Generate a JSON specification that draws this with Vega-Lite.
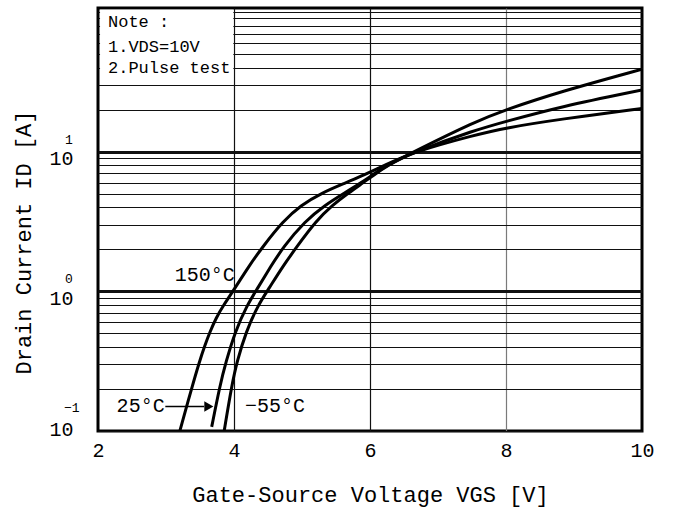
{
  "$schema": "https://vega.github.io/schema/vega-lite/v6.json",
  "width": 544,
  "height": 423,
  "autosize": {"type": "none"},
  "padding": {"left": 98, "top": 8, "right": 33, "bottom": 83},
  "background": "white",
  "config": {
    "font": "Liberation Mono",
    "view": {"stroke": "black", "strokeWidth": 3},
    "axis": {"domain": false, "ticks": false, "labelColor": "black", "titleColor": "black", "titleFontWeight": "normal"}
  },
  "datasets": {
    "curves": [
      {"temp": "150", "vgs": 3.206, "id": 0.101},
      {"temp": "150", "vgs": 3.39, "id": 0.213},
      {"temp": "150", "vgs": 3.491, "id": 0.313},
      {"temp": "150", "vgs": 3.572, "id": 0.411},
      {"temp": "150", "vgs": 3.647, "id": 0.513},
      {"temp": "150", "vgs": 3.735, "id": 0.643},
      {"temp": "150", "vgs": 3.846, "id": 0.796},
      {"temp": "150", "vgs": 4.012, "id": 1.05},
      {"temp": "150", "vgs": 4.213, "id": 1.5},
      {"temp": "150", "vgs": 4.419, "id": 2.08},
      {"temp": "150", "vgs": 4.721, "id": 3.18},
      {"temp": "150", "vgs": 4.985, "id": 4.15},
      {"temp": "150", "vgs": 5.294, "id": 5.08},
      {"temp": "150", "vgs": 5.618, "id": 5.93},
      {"temp": "150", "vgs": 5.853, "id": 6.62},
      {"temp": "150", "vgs": 6.221, "id": 8.03},
      {"temp": "150", "vgs": 6.632, "id": 9.95},
      {"temp": "150", "vgs": 7.544, "id": 13.2},
      {"temp": "150", "vgs": 7.985, "id": 14.8},
      {"temp": "150", "vgs": 8.794, "id": 17.1},
      {"temp": "150", "vgs": 10.0, "id": 20.4},
      {"temp": "25", "vgs": 3.672, "id": 0.107},
      {"temp": "25", "vgs": 3.794, "id": 0.213},
      {"temp": "25", "vgs": 3.882, "id": 0.313},
      {"temp": "25", "vgs": 4.015, "id": 0.513},
      {"temp": "25", "vgs": 4.191, "id": 0.796},
      {"temp": "25", "vgs": 4.346, "id": 1.05},
      {"temp": "25", "vgs": 4.537, "id": 1.5},
      {"temp": "25", "vgs": 4.725, "id": 2.08},
      {"temp": "25", "vgs": 5.044, "id": 3.18},
      {"temp": "25", "vgs": 5.338, "id": 4.15},
      {"temp": "25", "vgs": 5.632, "id": 5.08},
      {"temp": "25", "vgs": 5.853, "id": 5.93},
      {"temp": "25", "vgs": 6.0, "id": 6.62},
      {"temp": "25", "vgs": 6.246, "id": 8.0},
      {"temp": "25", "vgs": 6.662, "id": 10.0},
      {"temp": "25", "vgs": 7.544, "id": 14.3},
      {"temp": "25", "vgs": 7.985, "id": 16.4},
      {"temp": "25", "vgs": 8.794, "id": 21.0},
      {"temp": "25", "vgs": 10.0, "id": 27.7},
      {"temp": "-55", "vgs": 3.857, "id": 0.101},
      {"temp": "-55", "vgs": 3.968, "id": 0.213},
      {"temp": "-55", "vgs": 4.043, "id": 0.313},
      {"temp": "-55", "vgs": 4.176, "id": 0.513},
      {"temp": "-55", "vgs": 4.353, "id": 0.796},
      {"temp": "-55", "vgs": 4.515, "id": 1.05},
      {"temp": "-55", "vgs": 4.713, "id": 1.5},
      {"temp": "-55", "vgs": 4.922, "id": 2.08},
      {"temp": "-55", "vgs": 5.203, "id": 3.18},
      {"temp": "-55", "vgs": 5.449, "id": 4.15},
      {"temp": "-55", "vgs": 5.687, "id": 5.08},
      {"temp": "-55", "vgs": 5.884, "id": 5.93},
      {"temp": "-55", "vgs": 6.022, "id": 6.62},
      {"temp": "-55", "vgs": 6.251, "id": 7.95},
      {"temp": "-55", "vgs": 6.662, "id": 10.1},
      {"temp": "-55", "vgs": 7.544, "id": 16.4},
      {"temp": "-55", "vgs": 7.985, "id": 19.9},
      {"temp": "-55", "vgs": 8.794, "id": 26.9},
      {"temp": "-55", "vgs": 10.0, "id": 39.0}
    ],
    "box": [{"x": 2.03, "x2": 3.99, "y": 30.6, "y2": 104}],
    "note": [
      {"x": 2, "y": 85, "t": "Note :"},
      {"x": 2, "y": 56.3, "t": "1.VDS=10V"},
      {"x": 2, "y": 39.8, "t": "2.Pulse test"}
    ],
    "tlabels": [
      {"x": 3.57, "y": 1.31, "t": "150°C"}
    ],
    "tlabelR": [
      {"x": 2.98, "y": 0.15, "t": "25°C"}
    ],
    "tlabelL": [
      {"x": 4.16, "y": 0.15, "t": "−55°C"}
    ],
    "arrow": [{"x": 2.99, "x2": 3.56, "y": 0.15}],
    "head": [{"x": 3.63, "y": 0.15}],
    "exps": [
      {"y": 10, "t": "1"},
      {"y": 1, "t": "0"}
    ],
    "expsB": [
      {"y": 0.1, "t": "−1"}
    ]
  },
  "layer": [
    {
      "data": {"name": "box"},
      "mark": {"type": "rect", "fill": "white"},
      "encoding": {
        "x": {"field": "x", "type": "quantitative", "scale": {"domain": [2, 10]},
          "axis": {"values": [2, 4, 6, 8, 10], "format": "d", "grid": true, "gridWidth": 1.2,
            "gridColor": {"condition": {"test": "datum.value==8", "value": "#7a7a7a"}, "value": "#111111"},
            "gridOpacity": {"condition": {"test": "datum.value==2||datum.value==10", "value": 0}, "value": 1},
            "labelFontSize": 20, "labelPadding": 9, "labelFlush": false,
            "title": "Gate-Source Voltage VGS [V]", "titleFontSize": 22, "titlePadding": 24}},
        "x2": {"field": "x2"},
        "y": {"field": "y", "type": "quantitative", "scale": {"type": "log", "domain": [0.1, 107], "nice": false},
          "axis": {
            "values": [0.1, 0.2, 0.3, 0.4, 0.5, 0.6, 0.7, 0.8, 0.9, 1, 2, 3, 4, 5, 6, 7, 8, 9, 10, 20, 30, 40, 50, 60, 70, 80, 90, 100],
            "grid": true,
            "gridColor": "#111111",
            "gridWidth": {"condition": {"test": "datum.value==1||datum.value==10", "value": 3}, "value": 1},
            "labelExpr": "(datum.value==0.1||datum.value==1||datum.value==10) ? '10' : ''",
            "labelFontSize": 20,
            "labelPadding": 25,
            "labelOffset": {"condition": {"test": "datum.value==0.1", "value": -2}, "value": 7},
            "title": "Drain Current ID [A]",
            "titleFontSize": 22,
            "titlePadding": 13,
            "titleY": 234
          }},
        "y2": {"field": "y2"}
      }
    },
    {
      "data": {"name": "curves"},
      "mark": {"type": "line", "stroke": "black", "strokeWidth": 3, "interpolate": "basis", "clip": true},
      "encoding": {
        "x": {"field": "vgs", "type": "quantitative"},
        "y": {"field": "id", "type": "quantitative"},
        "detail": {"field": "temp"}
      }
    },
    {
      "data": {"name": "note"},
      "mark": {"type": "text", "align": "left", "baseline": "middle", "dx": 10, "fontSize": 17, "color": "black"},
      "encoding": {
        "x": {"field": "x", "type": "quantitative"},
        "y": {"field": "y", "type": "quantitative"},
        "text": {"field": "t"}
      }
    },
    {
      "data": {"name": "tlabels"},
      "mark": {"type": "text", "align": "center", "baseline": "middle", "fontSize": 20, "color": "black"},
      "encoding": {
        "x": {"field": "x", "type": "quantitative"},
        "y": {"field": "y", "type": "quantitative"},
        "text": {"field": "t"}
      }
    },
    {
      "data": {"name": "tlabelR"},
      "mark": {"type": "text", "align": "right", "baseline": "middle", "fontSize": 20, "color": "black"},
      "encoding": {
        "x": {"field": "x", "type": "quantitative"},
        "y": {"field": "y", "type": "quantitative"},
        "text": {"field": "t"}
      }
    },
    {
      "data": {"name": "tlabelL"},
      "mark": {"type": "text", "align": "left", "baseline": "middle", "fontSize": 20, "color": "black"},
      "encoding": {
        "x": {"field": "x", "type": "quantitative"},
        "y": {"field": "y", "type": "quantitative"},
        "text": {"field": "t"}
      }
    },
    {
      "data": {"name": "arrow"},
      "mark": {"type": "rule", "stroke": "black", "strokeWidth": 1.5},
      "encoding": {
        "x": {"field": "x", "type": "quantitative"},
        "x2": {"field": "x2"},
        "y": {"field": "y", "type": "quantitative"}
      }
    },
    {
      "data": {"name": "head"},
      "mark": {"type": "point", "shape": "triangle-right", "filled": true, "color": "black", "size": 110, "opacity": 1},
      "encoding": {
        "x": {"field": "x", "type": "quantitative"},
        "y": {"field": "y", "type": "quantitative"}
      }
    },
    {
      "data": {"name": "exps"},
      "mark": {"type": "text", "align": "left", "baseline": "middle", "fontSize": 13, "dx": -33, "dy": -12, "color": "black"},
      "encoding": {
        "x": {"datum": 2, "type": "quantitative"},
        "y": {"field": "y", "type": "quantitative"},
        "text": {"field": "t"}
      }
    },
    {
      "data": {"name": "expsB"},
      "mark": {"type": "text", "align": "left", "baseline": "middle", "fontSize": 13, "dx": -34, "dy": -23, "color": "black"},
      "encoding": {
        "x": {"datum": 2, "type": "quantitative"},
        "y": {"field": "y", "type": "quantitative"},
        "text": {"field": "t"}
      }
    }
  ]
}
